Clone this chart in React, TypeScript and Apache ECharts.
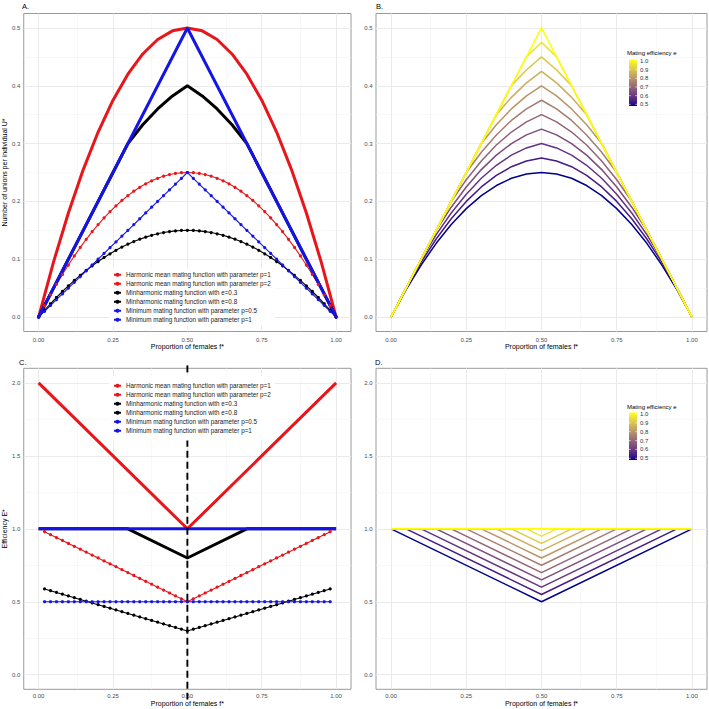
import React, { useEffect, useRef } from "react";
import * as echarts from "echarts";

// ---------- axes / ticks ----------
const xTicks = [0, 0.25, 0.5, 0.75, 1];
const xMinor = [0.125, 0.375, 0.625, 0.875];
const yTicksU = [0, 0.1, 0.2, 0.3, 0.4, 0.5];
const yMinorU = [0.05, 0.15, 0.25, 0.35, 0.45];
const yTicksE = [0, 0.5, 1, 1.5, 2];
const yMinorE = [0.25, 0.75, 1.25, 1.75];
const colorbarLabels = [0.5, 0.6, 0.7, 0.8, 0.9, 1.0];

const NAMES = [
  "Harmonic mean mating function with parameter p=1",
  "Harmonic mean mating function with parameter p=2",
  "Minharmonic mating function with e=0.3",
  "Minharmonic mating function with e=0.8",
  "Minimum mating function with parameter p=0.5",
  "Minimum mating function with parameter p=1",
];

// ---------- x grids ----------
const fGrid = [0, 0.05, 0.1, 0.15, 0.2, 0.25, 0.3, 0.35, 0.4, 0.45, 0.5, 0.55, 0.6, 0.65, 0.7, 0.75, 0.8, 0.85, 0.9, 0.95, 1];
const fDense = [0, 0.02, 0.04, 0.06, 0.08, 0.1, 0.12, 0.14, 0.16, 0.18, 0.2, 0.22, 0.24, 0.26, 0.28, 0.3, 0.32, 0.34, 0.36, 0.38, 0.4, 0.42, 0.44, 0.46, 0.48, 0.5, 0.52, 0.54, 0.56, 0.58, 0.6, 0.62, 0.64, 0.66, 0.68, 0.7, 0.72, 0.74, 0.76, 0.78, 0.8, 0.82, 0.84, 0.86, 0.88, 0.9, 0.92, 0.94, 0.96, 0.98, 1];
const fInner = [0.02, 0.04, 0.06, 0.08, 0.1, 0.12, 0.14, 0.16, 0.18, 0.2, 0.22, 0.24, 0.26, 0.28, 0.3, 0.32, 0.34, 0.36, 0.38, 0.4, 0.42, 0.44, 0.46, 0.48, 0.5, 0.52, 0.54, 0.56, 0.58, 0.6, 0.62, 0.64, 0.66, 0.68, 0.7, 0.72, 0.74, 0.76, 0.78, 0.8, 0.82, 0.84, 0.86, 0.88, 0.9, 0.92, 0.94, 0.96, 0.98];
const fTriangle = [0, 0.5, 1];

// ---------- Panel A: unions U* ----------
const U_harmP1 = [0, 0.0196, 0.0384, 0.0564, 0.0736, 0.09, 0.1056, 0.1204, 0.1344, 0.1476, 0.16, 0.1716, 0.1824, 0.1924, 0.2016, 0.21, 0.2176, 0.2244, 0.2304, 0.2356, 0.24, 0.2436, 0.2464, 0.2484, 0.2496, 0.25, 0.2496, 0.2484, 0.2464, 0.2436, 0.24, 0.2356, 0.2304, 0.2244, 0.2176, 0.21, 0.2016, 0.1924, 0.1824, 0.1716, 0.16, 0.1476, 0.1344, 0.1204, 0.1056, 0.09, 0.0736, 0.0564, 0.0384, 0.0196, 0];
const U_harmP2 = [0, 0.095, 0.18, 0.255, 0.32, 0.375, 0.42, 0.455, 0.48, 0.495, 0.5, 0.495, 0.48, 0.455, 0.42, 0.375, 0.32, 0.255, 0.18, 0.095, 0];
const U_minh03 = [0, 0.0118, 0.023, 0.0338, 0.0442, 0.054, 0.0634, 0.0722, 0.0806, 0.0886, 0.096, 0.103, 0.1094, 0.1154, 0.121, 0.126, 0.1306, 0.1346, 0.1382, 0.1414, 0.144, 0.1462, 0.1478, 0.149, 0.1498, 0.15, 0.1498, 0.149, 0.1478, 0.1462, 0.144, 0.1414, 0.1382, 0.1346, 0.1306, 0.126, 0.121, 0.1154, 0.1094, 0.103, 0.096, 0.0886, 0.0806, 0.0722, 0.0634, 0.054, 0.0442, 0.0338, 0.023, 0.0118, 0];
const U_minh08 = [0, 0.05, 0.1, 0.15, 0.2, 0.25, 0.3, 0.3325, 0.36, 0.3825, 0.4, 0.3825, 0.36, 0.3325, 0.3, 0.25, 0.2, 0.15, 0.1, 0.05, 0];
const U_min05 = [0, 0.01, 0.02, 0.03, 0.04, 0.05, 0.06, 0.07, 0.08, 0.09, 0.1, 0.11, 0.12, 0.13, 0.14, 0.15, 0.16, 0.17, 0.18, 0.19, 0.2, 0.21, 0.22, 0.23, 0.24, 0.25, 0.24, 0.23, 0.22, 0.21, 0.2, 0.19, 0.18, 0.17, 0.16, 0.15, 0.14, 0.13, 0.12, 0.11, 0.1, 0.09, 0.08, 0.07, 0.06, 0.05, 0.04, 0.03, 0.02, 0.01, 0];
const U_min1 = [0, 0.5, 0];

// ---------- Panel C: efficiency E* ----------
const E_harmP1 = [0.98, 0.96, 0.94, 0.92, 0.9, 0.88, 0.86, 0.84, 0.82, 0.8, 0.78, 0.76, 0.74, 0.72, 0.7, 0.68, 0.66, 0.64, 0.62, 0.6, 0.58, 0.56, 0.54, 0.52, 0.5, 0.52, 0.54, 0.56, 0.58, 0.6, 0.62, 0.64, 0.66, 0.68, 0.7, 0.72, 0.74, 0.76, 0.78, 0.8, 0.82, 0.84, 0.86, 0.88, 0.9, 0.92, 0.94, 0.96, 0.98];
const fHarmP2C = [0, 0.5, 1];
const E_harmP2 = [2, 1, 2];
const E_minh03 = [0.588, 0.576, 0.564, 0.552, 0.54, 0.528, 0.516, 0.504, 0.492, 0.48, 0.468, 0.456, 0.444, 0.432, 0.42, 0.408, 0.396, 0.384, 0.372, 0.36, 0.348, 0.336, 0.324, 0.312, 0.3, 0.312, 0.324, 0.336, 0.348, 0.36, 0.372, 0.384, 0.396, 0.408, 0.42, 0.432, 0.444, 0.456, 0.468, 0.48, 0.492, 0.504, 0.516, 0.528, 0.54, 0.552, 0.564, 0.576, 0.588];
const fMinh08C = [0, 0.3, 0.5, 0.7, 1];
const E_minh08 = [1, 1, 0.8, 1, 1];
const E_min05 = [0.5, 0.5, 0.5, 0.5, 0.5, 0.5, 0.5, 0.5, 0.5, 0.5, 0.5, 0.5, 0.5, 0.5, 0.5, 0.5, 0.5, 0.5, 0.5, 0.5, 0.5, 0.5, 0.5, 0.5, 0.5, 0.5, 0.5, 0.5, 0.5, 0.5, 0.5, 0.5, 0.5, 0.5, 0.5, 0.5, 0.5, 0.5, 0.5, 0.5, 0.5, 0.5, 0.5, 0.5, 0.5, 0.5, 0.5, 0.5, 0.5];
const fMin1C = [0, 1];
const E_min1 = [1, 1];
// vertical dashed reference line at f* = 0.5 (hidden behind the legend box between 1.61 and 2.07)
const vlineTop = [[0.5, 2.12], [0.5, 2.07]];
const vlineBottom = [[0.5, 1.61], [0.5, -0.17]];

// ---------- Panel B: U* by mating efficiency e ----------
const effLevels = [0.5, 0.55, 0.6, 0.65, 0.7, 0.75, 0.8, 0.85, 0.9, 0.95, 1.0];
const U_e050 = [0, 0.0475, 0.09, 0.1275, 0.16, 0.1875, 0.21, 0.2275, 0.24, 0.2475, 0.25, 0.2475, 0.24, 0.2275, 0.21, 0.1875, 0.16, 0.1275, 0.09, 0.0475, 0];
const U_e055 = [0, 0.05, 0.095, 0.135, 0.17, 0.2, 0.225, 0.245, 0.26, 0.27, 0.275, 0.27, 0.26, 0.245, 0.225, 0.2, 0.17, 0.135, 0.095, 0.05, 0];
const U_e060 = [0, 0.05, 0.1, 0.1425, 0.18, 0.2125, 0.24, 0.2625, 0.28, 0.2925, 0.3, 0.2925, 0.28, 0.2625, 0.24, 0.2125, 0.18, 0.1425, 0.1, 0.05, 0];
const U_e065 = [0, 0.05, 0.1, 0.15, 0.19, 0.225, 0.255, 0.28, 0.3, 0.315, 0.325, 0.315, 0.3, 0.28, 0.255, 0.225, 0.19, 0.15, 0.1, 0.05, 0];
const U_e070 = [0, 0.05, 0.1, 0.15, 0.2, 0.2375, 0.27, 0.2975, 0.32, 0.3375, 0.35, 0.3375, 0.32, 0.2975, 0.27, 0.2375, 0.2, 0.15, 0.1, 0.05, 0];
const U_e075 = [0, 0.05, 0.1, 0.15, 0.2, 0.25, 0.285, 0.315, 0.34, 0.36, 0.375, 0.36, 0.34, 0.315, 0.285, 0.25, 0.2, 0.15, 0.1, 0.05, 0];
const U_e080 = [0, 0.05, 0.1, 0.15, 0.2, 0.25, 0.3, 0.3325, 0.36, 0.3825, 0.4, 0.3825, 0.36, 0.3325, 0.3, 0.25, 0.2, 0.15, 0.1, 0.05, 0];
const U_e085 = [0, 0.05, 0.1, 0.15, 0.2, 0.25, 0.3, 0.35, 0.38, 0.405, 0.425, 0.405, 0.38, 0.35, 0.3, 0.25, 0.2, 0.15, 0.1, 0.05, 0];
const U_e090 = [0, 0.05, 0.1, 0.15, 0.2, 0.25, 0.3, 0.35, 0.4, 0.4275, 0.45, 0.4275, 0.4, 0.35, 0.3, 0.25, 0.2, 0.15, 0.1, 0.05, 0];
const U_e095 = [0, 0.05, 0.1, 0.15, 0.2, 0.25, 0.3, 0.35, 0.4, 0.45, 0.475, 0.45, 0.4, 0.35, 0.3, 0.25, 0.2, 0.15, 0.1, 0.05, 0];
const U_e100 = [0, 0.05, 0.1, 0.15, 0.2, 0.25, 0.3, 0.35, 0.4, 0.45, 0.5, 0.45, 0.4, 0.35, 0.3, 0.25, 0.2, 0.15, 0.1, 0.05, 0];
const U_byEff = [U_e050, U_e055, U_e060, U_e065, U_e070, U_e075, U_e080, U_e085, U_e090, U_e095, U_e100];

// ---------- Panel D: E* by mating efficiency e (vertices) ----------
const fD_e050 = [0, 0.5, 1];
const E_e050 = [1, 0.5, 1];
const fD_e055 = [0, 0.05, 0.5, 0.95, 1];
const E_e055 = [1, 1, 0.55, 1, 1];
const fD_e060 = [0, 0.1, 0.5, 0.9, 1];
const E_e060 = [1, 1, 0.6, 1, 1];
const fD_e065 = [0, 0.15, 0.5, 0.85, 1];
const E_e065 = [1, 1, 0.65, 1, 1];
const fD_e070 = [0, 0.2, 0.5, 0.8, 1];
const E_e070 = [1, 1, 0.7, 1, 1];
const fD_e075 = [0, 0.25, 0.5, 0.75, 1];
const E_e075 = [1, 1, 0.75, 1, 1];
const fD_e080 = [0, 0.3, 0.5, 0.7, 1];
const E_e080 = [1, 1, 0.8, 1, 1];
const fD_e085 = [0, 0.35, 0.5, 0.65, 1];
const E_e085 = [1, 1, 0.85, 1, 1];
const fD_e090 = [0, 0.4, 0.5, 0.6, 1];
const E_e090 = [1, 1, 0.9, 1, 1];
const fD_e095 = [0, 0.45, 0.5, 0.55, 1];
const E_e095 = [1, 1, 0.95, 1, 1];
const fD_e100 = [0, 1];
const E_e100 = [1, 1];
const fD_byEff = [fD_e050, fD_e055, fD_e060, fD_e065, fD_e070, fD_e075, fD_e080, fD_e085, fD_e090, fD_e095, fD_e100];
const E_byEff = [E_e050, E_e055, E_e060, E_e065, E_e070, E_e075, E_e080, E_e085, E_e090, E_e095, E_e100];

// ---------- styling helpers ----------
const FONT = "'Liberation Sans', Arial, Helvetica, sans-serif";
const RED = "#e8161b";
const BLACK = "#000000";
const BLUE = "#1414e6";

const zip = (xs: number[], ys: number[]) => xs.map((x, i) => [x, ys[i]]);

function srgbToLin(c: number) {
  c /= 255;
  return c <= 0.04045 ? c / 12.92 : Math.pow((c + 0.055) / 1.055, 2.4);
}
function linToSrgb(c: number) {
  const v = c <= 0.0031308 ? 12.92 * c : 1.055 * Math.pow(c, 1 / 2.4) - 0.055;
  return Math.round(Math.max(0, Math.min(1, v)) * 255);
}
function rgbToLab(rgb: number[]) {
  const R = srgbToLin(rgb[0]), G = srgbToLin(rgb[1]), B = srgbToLin(rgb[2]);
  const X = (0.4124 * R + 0.3576 * G + 0.1805 * B) / 0.95047;
  const Y = 0.2126 * R + 0.7152 * G + 0.0722 * B;
  const Z = (0.0193 * R + 0.1192 * G + 0.9505 * B) / 1.08883;
  const f = (t: number) => (t > 0.008856 ? Math.cbrt(t) : 7.787 * t + 16 / 116);
  return [116 * f(Y) - 16, 500 * (f(X) - f(Y)), 200 * (f(Y) - f(Z))];
}
function labToRgb(lab: number[]) {
  const fy = (lab[0] + 16) / 116, fx = fy + lab[1] / 500, fz = fy - lab[2] / 200;
  const finv = (t: number) => (t * t * t > 0.008856 ? t * t * t : (t - 16 / 116) / 7.787);
  const X = finv(fx) * 0.95047, Y = finv(fy), Z = finv(fz) * 1.08883;
  const R = 3.2406 * X - 1.5372 * Y - 0.4986 * Z;
  const G = -0.9689 * X + 1.8758 * Y + 0.0415 * Z;
  const B = 0.0557 * X - 0.204 * Y + 1.057 * Z;
  return `rgb(${linToSrgb(R)},${linToSrgb(G)},${linToSrgb(B)})`;
}
const LOW = rgbToLab([0, 0, 139]);
const HIGH = rgbToLab([255, 255, 0]);
const gradColor = (t: number) => labToRgb([0, 1, 2].map((k) => LOW[k] + (HIGH[k] - LOW[k]) * t));
const effColor = (e: number) => gradColor((e - 0.5) / 0.5);

const thin = (name: string, color: string, idx: number, data: number[][]) => ({
  name, type: "line", xAxisIndex: idx, yAxisIndex: idx, data, z: 3,
  symbol: "circle", symbolSize: 3.2, showSymbol: true,
  lineStyle: { color, width: 1.1 }, itemStyle: { color },
});
const thick = (name: string, color: string, idx: number, data: number[][]) => ({
  name, type: "line", xAxisIndex: idx, yAxisIndex: idx, data, z: 3,
  symbol: "none", showSymbol: false,
  lineStyle: { color, width: 3 }, itemStyle: { color },
});
const dashed = (data: number[][]) => ({
  type: "line", xAxisIndex: 2, yAxisIndex: 2, data, clip: false, z: 3.5,
  symbol: "none", silent: true, lineStyle: { color: "#000", width: 1.9, type: [7, 4] },
});

function gridLines(idx: number, yMaj: number[], yMin: number[]) {
  const maj = { color: "#ebebeb", width: 1, type: "solid" };
  const mn = { color: "#f4f4f4", width: 0.6, type: "solid" };
  return {
    type: "line", xAxisIndex: idx, yAxisIndex: idx, data: [[0.5, 0]], symbol: "none",
    lineStyle: { width: 0, opacity: 0 }, silent: true, z: 1,
    markLine: {
      z: 1, silent: true, symbol: ["none", "none"], label: { show: false }, animation: false,
      emphasis: { disabled: true },
      data: [
        ...xMinor.map((v) => ({ xAxis: v, lineStyle: mn })),
        ...yMin.map((v) => ({ yAxis: v, lineStyle: mn })),
        ...xTicks.map((v) => ({ xAxis: v, lineStyle: maj })),
        ...yMaj.map((v) => ({ yAxis: v, lineStyle: maj })),
      ],
    },
  };
}

const isMult = (v: number, step: number) => Math.abs(v / step - Math.round(v / step)) < 1e-6;

function xAxisCfg(gridIndex: number, margin: number, nameGap: number) {
  return {
    type: "value", gridIndex, min: -0.05, max: 1.05, interval: 0.05,
    name: "Proportion of females f*", nameLocation: "middle", nameGap,
    nameTextStyle: { fontSize: 7, color: "#000", fontFamily: FONT },
    axisLine: { show: false },
    axisTick: { show: true, customValues: xTicks, length: 2.5, lineStyle: { color: "#333", width: 0.6 } },
    axisLabel: {
      customValues: xTicks, fontSize: 6, color: "#4d4d4d", margin, fontFamily: FONT,
      formatter: (v: number) => (isMult(v, 0.25) ? v.toFixed(2) : ""),
    },
    splitLine: { show: false },
  };
}
function yAxisCfg(gridIndex: number, kind: "U" | "E", name: string) {
  const ticks = kind === "U" ? yTicksU : yTicksE;
  const step = kind === "U" ? 0.1 : 0.5;
  return {
    type: "value", gridIndex,
    min: kind === "U" ? -0.025 : -0.1, max: kind === "U" ? 0.525 : 2.1,
    interval: kind === "U" ? 0.025 : 0.1,
    name, nameLocation: "middle", nameGap: 11,
    nameTextStyle: { fontSize: 7, color: "#000", fontFamily: FONT },
    axisLine: { show: false },
    axisTick: { show: true, customValues: ticks, length: 2.5, lineStyle: { color: "#333", width: 0.6 } },
    axisLabel: {
      customValues: ticks, fontSize: 6, color: "#4d4d4d", margin: 3.5, fontFamily: FONT,
      formatter: (v: number) => (isMult(v, step) ? v.toFixed(1) : ""),
    },
    splitLine: { show: false },
  };
}

function colorbar(top: number, bottom: number, barTop: number, barBottom: number, titleY: number) {
  const stops = [0, 0.1, 0.2, 0.3, 0.4, 0.5, 0.6, 0.7, 0.8, 0.9, 1].map((t) => ({ offset: t, color: gradColor(t) }));
  const els: any[] = [
    {
      type: "text", x: 627, y: titleY, z: 20,
      style: { text: "Mating efficiency e", fontSize: 6, fontFamily: FONT, fill: "#000", verticalAlign: "middle" },
    },
    {
      type: "rect", z: 20, shape: { x: 629, y: barTop, width: 8, height: barBottom - barTop },
      style: { fill: new echarts.graphic.LinearGradient(0, 1, 0, 0, stops) },
    },
  ];
  colorbarLabels.forEach((v) => {
    const y = bottom - ((v - 0.5) / 0.5) * (bottom - top);
    els.push({ type: "line", z: 21, shape: { x1: 629, y1: y, x2: 630.8, y2: y }, style: { stroke: "#fff", lineWidth: 0.6 } });
    els.push({ type: "line", z: 21, shape: { x1: 635.2, y1: y, x2: 637, y2: y }, style: { stroke: "#fff", lineWidth: 0.6 } });
    els.push({
      type: "text", x: 640, y, z: 20,
      style: { text: v.toFixed(1), fontSize: 6, fontFamily: FONT, fill: "#333", verticalAlign: "middle" },
    });
  });
  return els;
}

function buildOption() {
  const grids = [
    { left: 22, top: 13.5, width: 329, height: 318 },
    { left: 376, top: 13.5, width: 331, height: 318 },
    { left: 22, top: 368.3, width: 329, height: 321 },
    { left: 376, top: 368.3, width: 331, height: 321 },
  ].map((g) => ({ ...g, show: true, borderColor: "#9a9a9a", borderWidth: 1, backgroundColor: "#fff", containLabel: false }));

  const series: any[] = [
    gridLines(0, yTicksU, yMinorU),
    gridLines(1, yTicksU, yMinorU),
    gridLines(2, yTicksE, yMinorE),
    gridLines(3, yTicksE, yMinorE),
    // Panel A
    thin(NAMES[0], RED, 0, zip(fDense, U_harmP1)),
    thick(NAMES[1], RED, 0, zip(fGrid, U_harmP2)),
    thin(NAMES[2], BLACK, 0, zip(fDense, U_minh03)),
    thick(NAMES[3], BLACK, 0, zip(fGrid, U_minh08)),
    thin(NAMES[4], BLUE, 0, zip(fDense, U_min05)),
    thick(NAMES[5], BLUE, 0, zip(fTriangle, U_min1)),
    // Panel C
    thin(NAMES[0], RED, 2, zip(fInner, E_harmP1)),
    thick(NAMES[1], RED, 2, zip(fHarmP2C, E_harmP2)),
    thin(NAMES[2], BLACK, 2, zip(fInner, E_minh03)),
    thick(NAMES[3], BLACK, 2, zip(fMinh08C, E_minh08)),
    thin(NAMES[4], BLUE, 2, zip(fInner, E_min05)),
    thick(NAMES[5], BLUE, 2, zip(fMin1C, E_min1)),
    dashed(vlineTop),
    dashed(vlineBottom),
  ];
  effLevels.forEach((e, i) => {
    series.push({
      type: "line", xAxisIndex: 1, yAxisIndex: 1, data: zip(fGrid, U_byEff[i]), z: 3,
      symbol: "none", lineStyle: { color: effColor(e), width: 1.5 },
    });
    series.push({
      type: "line", xAxisIndex: 3, yAxisIndex: 3, data: zip(fD_byEff[i], E_byEff[i]), z: 3,
      symbol: "none", lineStyle: { color: effColor(e), width: 1.5 },
    });
  });

  const legendBase = {
    data: NAMES, orient: "vertical", left: 109, itemWidth: 7, itemHeight: 5, itemGap: 1.5,
    backgroundColor: "#fff", selectedMode: false, z: 30,
    textStyle: { fontSize: 6.3, lineHeight: 7.5, color: "#1a1a1a", fontFamily: FONT },
  };

  const panelLabel = (text: string, x: number, y: number) => ({
    type: "text", x, y, z: 20, style: { text, fontSize: 7.5, fontFamily: FONT, fill: "#000", verticalAlign: "middle" },
  });

  return {
    animation: false,
    backgroundColor: "#fff",
    textStyle: { fontFamily: FONT },
    grid: grids,
    xAxis: [xAxisCfg(0, 5, 11), xAxisCfg(1, 5, 11), xAxisCfg(2, 3.5, 8), xAxisCfg(3, 3.5, 8)],
    yAxis: [
      yAxisCfg(0, "U", "Number of unions per individual U*"),
      yAxisCfg(1, "U", ""),
      yAxisCfg(2, "E", "Efficiency E*"),
      yAxisCfg(3, "E", ""),
    ],
    legend: [
      { ...legendBase, top: 269, padding: [2, 4] },
      { ...legendBase, top: 376, padding: [6, 4] },
    ],
    series,
    graphic: [
      panelLabel("A.", 22, 6),
      panelLabel("B.", 376, 6),
      panelLabel("C.", 19, 362),
      panelLabel("D.", 375, 362),
      ...colorbar(61, 104.3, 59.5, 106, 52.5),
      ...colorbar(414, 458.3, 412.5, 460, 406.5),
    ],
  };
}

export default function App() {
  const ref = useRef<HTMLDivElement>(null);
  useEffect(() => {
    if (!ref.current) return;
    const chart = echarts.init(ref.current, null, { renderer: "svg" });
    chart.setOption(buildOption() as any);
    return () => chart.dispose();
  }, []);
  return (
    <div
      ref={ref}
      style={{ position: "fixed", left: 0, top: 0, width: 709, height: 709, background: "#fff" }}
    />
  );
}
